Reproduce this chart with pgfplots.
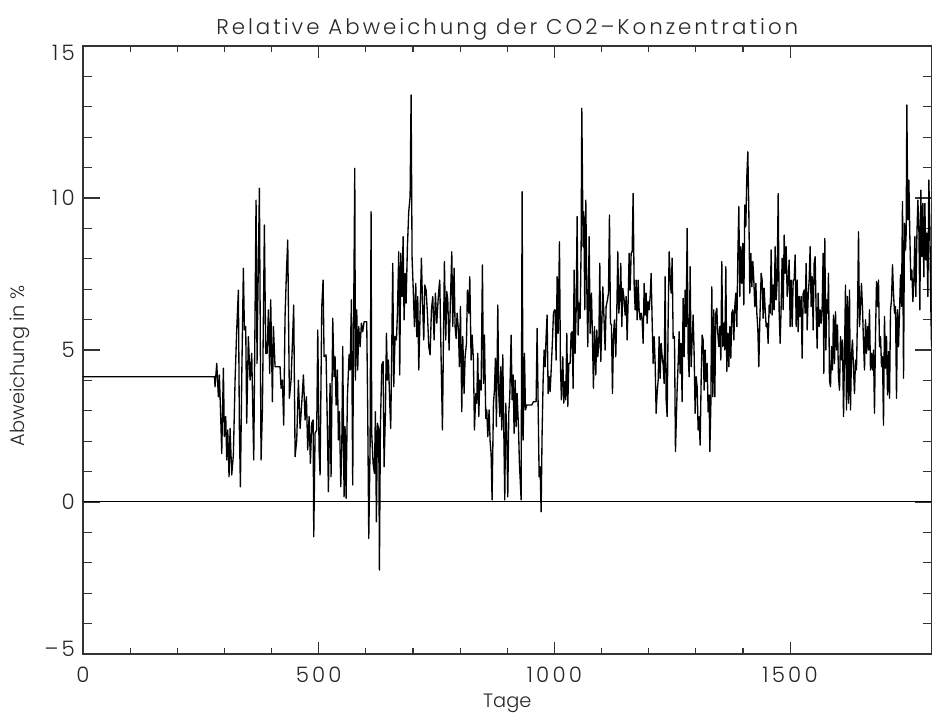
\documentclass[border=0pt]{standalone}
\usepackage{fontspec}
\setmainfont{Poppins Light}
\usepackage{pgfplots}
\pgfplotsset{compat=1.18}
\pgfplotstableread{
x y
0 4.12
279 4.12
280.1 3.79
283.7 4.56
287.2 3.46
289.3 4.18
292.1 2.81
294.3 1.60
297.8 4.40
299.9 2.15
302.8 2.81
304.9 1.38
307.0 2.37
309.8 0.83
312.0 2.42
315.5 0.89
319.0 1.55
322.6 4.01
326.1 5.66
329.6 6.97
331.8 2.37
333.9 0.50
336.7 4.01
340.2 7.69
342.4 5.66
345.2 5.77
347.3 2.59
350.8 5.44
354.4 4.01
357.9 4.89
362.2 1.38
365.0 6.21
367.1 9.93
369.2 4.56
370.7 6.43
374.2 10.32
377.7 1.38
380.6 3.03
384.8 9.11
387.6 4.89
390.5 4.89
393.3 6.32
396.1 4.23
398.2 6.65
401.8 3.30
403.9 5.77
407.4 4.45
411.0 4.45
418.0 4.45
420.2 3.74
423.0 4.01
425.8 2.53
428.6 6.10
431.5 7.52
434.3 8.62
437.8 3.41
441.4 4.01
444.2 5.22
447.0 6.48
449.9 1.49
453.4 2.04
456.9 4.01
460.5 2.42
464.0 3.25
467.6 4.18
471.1 2.70
473.9 3.46
476.7 1.71
479.6 2.81
482.4 1.27
485.2 2.59
488.1 2.70
489.5 -1.14
492.3 2.26
495.8 2.37
498.0 5.66
500.8 1.71
502.9 0.89
506.5 6.43
509.3 7.30
511.4 4.78
515.6 4.84
518.5 2.37
520.6 0.34
524.1 3.90
526.2 0.83
529.8 6.04
532.6 4.12
534.7 4.78
536.9 3.19
539.7 4.34
541.8 2.04
543.9 2.97
546.8 0.50
548.9 1.66
551.0 5.11
553.8 0.17
555.9 2.48
558.1 0.12
560.9 3.46
564.4 4.84
566.6 4.34
569.4 6.65
572.2 0.56
573.6 4.89
576.5 10.98
577.9 4.01
580.7 6.32
582.8 4.34
584.9 5.77
587.8 5.11
590.6 5.88
593.4 5.60
596.3 5.93
601.9 5.93
604.0 2.92
606.2 -1.20
609.0 1.82
611.1 9.55
612.5 2.26
615.4 1.27
618.2 0.94
620.3 2.97
622.4 -0.65
624.6 2.59
627.4 2.37
628.8 -2.24
630.9 2.48
633.8 4.51
636.6 4.62
638.7 1.16
641.5 2.92
643.7 5.55
645.8 4.01
647.9 4.67
650.7 3.25
652.8 2.42
655.0 5.11
657.1 7.85
659.2 3.79
662.0 5.44
664.9 5.33
667.0 6.21
669.8 8.23
671.9 4.18
674.1 8.18
676.9 6.76
679.0 8.73
681.1 5.99
683.3 7.52
685.4 6.54
688.2 8.40
691.0 9.55
693.9 10.04
696.0 13.39
698.1 8.02
700.2 7.14
703.1 5.77
705.9 7.19
708.0 5.44
710.1 6.76
712.3 4.34
715.1 6.21
717.9 8.02
720.0 6.65
722.9 5.33
725.0 7.14
727.8 6.97
730.6 6.21
733.5 5.11
736.3 4.84
739.1 6.32
742.0 6.76
744.8 5.33
747.6 6.87
750.5 5.88
753.3 6.65
755.4 7.08
756.8 7.30
759.6 4.78
762.5 2.37
764.6 5.33
766.7 7.91
769.5 5.33
771.7 6.92
773.8 6.65
776.6 5.00
778.7 6.21
782.3 8.23
784.4 5.77
787.2 7.69
789.3 5.77
791.5 5.38
793.6 6.21
796.4 5.66
798.5 4.45
800.7 6.43
803.5 2.97
805.6 5.44
808.4 3.57
810.6 4.78
813.4 5.22
815.5 6.97
818.3 6.21
820.5 7.41
823.3 4.67
825.4 5.49
828.2 4.67
830.4 2.37
833.2 3.57
835.3 3.25
837.4 4.89
839.6 2.81
841.7 4.01
844.5 3.68
847.3 7.80
849.5 3.90
851.6 5.49
854.4 2.75
856.5 3.03
858.7 2.15
861.5 3.03
863.6 1.99
865.7 1.60
867.8 0.07
870.7 3.25
872.8 3.68
874.9 4.73
877.0 2.48
879.9 6.48
882.0 3.57
884.1 2.81
886.2 4.45
888.4 2.37
890.5 4.84
892.6 2.42
894.7 0.07
896.8 3.25
899.0 2.10
901.1 0.17
903.2 2.92
905.3 3.46
908.2 5.49
910.3 3.36
912.4 4.18
914.5 2.26
916.7 4.01
918.8 2.48
920.9 3.57
923.7 2.48
925.8 1.27
929.4 0.07
931.5 10.21
933.6 2.04
936.5 4.89
938.6 3.03
941.4 3.19
952.0 3.19
955.6 3.30
961.2 3.30
963.3 5.71
965.5 3.19
967.6 0.83
969.7 1.16
971.8 -0.32
973.9 2.26
976.1 4.01
978.2 5.00
980.3 4.45
982.4 5.44
984.5 6.15
986.7 3.57
988.8 4.12
990.9 3.63
993.0 4.29
995.9 5.33
998.0 6.21
1000.1 6.32
1001.5 6.32
1003.6 4.67
1005.8 7.41
1007.9 5.55
1010.7 8.56
1012.8 4.51
1014.9 3.36
1017.8 4.78
1019.9 3.25
1022.0 3.96
1024.1 3.36
1026.3 5.55
1028.4 3.14
1030.5 4.56
1033.3 4.56
1035.5 5.55
1037.6 5.60
1039.7 3.74
1041.8 7.63
1043.9 4.89
1046.1 6.32
1048.2 9.39
1050.3 5.49
1052.4 6.54
1054.6 6.04
1056.7 8.40
1058.1 12.95
1059.5 10.70
1060.9 8.40
1062.3 9.55
1064.5 6.32
1066.6 9.93
1068.7 7.08
1070.8 5.11
1073.7 8.73
1075.8 5.55
1078.6 6.87
1080.7 5.44
1082.8 3.74
1085.0 5.77
1087.8 4.18
1089.9 5.66
1092.0 4.78
1094.2 5.17
1096.3 7.85
1098.4 4.62
1100.5 5.82
1102.7 7.08
1104.8 6.21
1107.6 5.00
1109.7 6.43
1112.6 6.65
1114.7 6.87
1116.8 9.44
1118.9 5.88
1121.0 5.82
1123.2 3.57
1125.3 5.49
1127.4 5.99
1130.2 4.78
1132.4 6.32
1134.5 8.23
1136.6 6.21
1138.7 6.70
1140.8 7.85
1143.0 5.77
1145.1 7.03
1147.9 6.65
1150.0 6.15
1152.2 6.76
1154.3 5.33
1156.4 6.59
1158.5 8.18
1160.7 6.97
1162.8 8.18
1164.9 8.23
1167.0 10.15
1169.1 7.19
1171.3 6.32
1173.4 7.30
1175.5 5.99
1177.6 7.30
1179.7 6.32
1181.9 5.99
1184.0 6.21
1186.1 5.99
1188.2 5.22
1190.4 7.19
1192.5 6.15
1194.6 6.87
1196.7 5.88
1198.8 6.59
1201.0 6.32
1203.1 6.76
1205.2 7.52
1207.3 5.99
1209.5 4.56
1211.6 5.44
1213.7 4.56
1215.8 2.92
1217.9 3.57
1220.1 4.01
1222.2 5.44
1224.3 4.07
1226.4 5.22
1228.6 4.78
1230.7 4.51
1232.8 3.90
1234.9 7.41
1237.0 3.36
1239.2 2.81
1241.3 5.99
1243.4 8.23
1245.5 7.41
1247.6 6.87
1249.8 8.02
1251.9 5.38
1254.7 5.44
1256.8 1.66
1260.3 3.68
1262.5 4.56
1264.6 5.60
1266.7 4.23
1268.8 5.22
1270.9 3.30
1273.1 6.70
1275.2 4.78
1277.3 6.97
1279.4 5.77
1281.6 9.00
1283.7 4.89
1285.8 4.12
1287.9 7.74
1290.1 4.45
1292.2 5.33
1294.3 6.15
1296.4 4.89
1298.5 2.92
1300.7 4.12
1302.8 3.79
1304.9 2.37
1307.0 2.81
1309.1 1.87
1311.3 4.01
1313.4 5.49
1315.5 5.33
1317.6 3.68
1319.8 5.00
1321.9 3.96
1324.0 4.56
1326.1 2.97
1328.2 3.52
1329.7 1.66
1331.8 3.14
1333.9 7.08
1336.0 3.46
1338.1 6.32
1340.3 3.46
1342.4 6.21
1344.5 6.37
1346.6 5.55
1348.8 5.11
1350.9 5.77
1353.0 4.67
1355.1 7.91
1357.2 5.11
1359.4 5.88
1361.5 5.00
1363.6 7.74
1365.7 4.29
1367.9 5.55
1370.0 4.45
1372.1 5.77
1374.2 4.73
1376.3 6.21
1378.5 6.32
1380.6 5.33
1382.7 6.43
1384.8 6.87
1387.0 5.77
1389.1 8.07
1391.2 9.72
1393.3 6.76
1395.4 8.40
1397.6 7.19
1399.7 8.51
1401.8 6.48
1403.9 9.77
1406.0 9.06
1408.2 10.70
1410.3 11.52
1412.4 9.61
1414.5 6.87
1416.7 8.18
1418.8 7.08
1420.9 7.91
1423.0 7.30
1425.1 6.43
1427.3 7.19
1429.4 6.21
1431.5 5.71
1433.6 4.45
1435.8 5.99
1438.6 7.52
1440.7 7.30
1442.8 6.04
1444.9 7.03
1447.1 6.32
1449.2 5.77
1451.3 5.88
1453.4 5.22
1455.6 6.48
1457.7 6.21
1459.8 8.29
1461.9 6.15
1464.0 7.14
1466.2 6.32
1468.3 8.40
1470.4 6.65
1472.5 7.30
1474.7 10.15
1476.8 6.21
1478.9 5.22
1481.0 6.43
1483.1 8.02
1485.3 6.32
1487.4 8.78
1489.5 7.52
1491.6 8.40
1493.8 6.76
1495.9 7.30
1498.0 7.96
1500.1 5.77
1502.2 7.30
1504.4 5.77
1506.5 7.30
1508.6 7.30
1510.7 8.13
1512.9 5.77
1515.0 7.30
1517.1 5.60
1519.2 6.76
1521.3 6.10
1523.4 6.76
1525.5 4.73
1527.7 6.87
1529.8 6.97
1531.9 6.21
1534.0 7.85
1536.2 5.66
1538.3 6.76
1540.4 7.30
1542.5 8.40
1544.6 6.43
1546.8 7.41
1548.9 5.66
1551.0 7.85
1553.1 8.07
1555.2 6.32
1557.4 5.06
1559.5 6.87
1561.6 5.77
1563.7 6.32
1565.9 5.88
1568.0 6.43
1570.1 8.18
1571.5 4.23
1573.6 8.67
1575.8 5.00
1577.9 6.65
1580.0 6.21
1581.4 7.52
1583.5 4.01
1585.7 3.79
1587.8 5.11
1589.9 4.34
1592.0 6.15
1594.2 4.56
1596.3 6.26
1598.4 5.00
1600.5 5.82
1602.6 4.12
1604.8 3.68
1606.9 5.44
1609.0 4.67
1611.1 5.33
1613.3 2.81
1615.4 4.89
1617.5 7.14
1619.6 3.03
1621.7 6.76
1623.9 3.25
1626.0 6.97
1628.1 3.03
1630.2 4.84
1632.3 5.33
1634.5 4.34
1636.6 3.57
1638.7 4.67
1640.8 4.34
1643.0 6.21
1645.1 8.89
1647.2 5.77
1649.3 6.43
1651.4 7.19
1653.6 6.37
1655.7 5.22
1657.8 4.34
1659.9 5.99
1662.1 4.89
1664.2 5.77
1666.3 5.00
1668.4 6.32
1670.5 4.34
1672.7 4.89
1674.8 4.34
1676.9 5.00
1679.0 2.92
1681.2 5.55
1683.3 7.25
1685.4 6.43
1687.5 7.30
1689.6 5.11
1691.8 5.44
1693.9 4.45
1696.0 4.78
1698.1 2.53
1700.2 6.10
1702.4 4.40
1704.5 5.44
1706.6 3.52
1708.7 4.95
1710.9 3.41
1713.0 6.32
1715.1 6.65
1717.2 7.80
1719.3 6.87
1721.5 6.21
1723.6 6.43
1725.7 3.41
1727.8 6.32
1730.0 5.11
1732.1 6.26
1734.2 7.47
1736.3 6.43
1738.4 9.88
1740.6 4.07
1742.7 9.17
1744.8 8.29
1746.2 8.84
1747.6 13.06
1749.8 9.28
1751.9 10.59
1754.0 8.73
1756.1 7.30
1758.2 7.63
1760.4 6.59
1762.5 7.25
1764.6 8.73
1766.7 6.76
1768.9 8.73
1771.0 9.93
1773.1 9.06
1775.2 6.32
1777.3 10.26
1779.5 8.07
1781.6 9.82
1783.7 7.41
1785.8 9.82
1788.0 7.96
1790.1 8.84
1792.2 6.76
1794.3 10.59
1796.4 9.06
1798.6 6.32
1800.0 5.11
}\codata
\begin{document}
\begin{tikzpicture}
\path[use as bounding box] (-62.25pt,-45.75pt) rectangle (637.5pt,490.5pt);
\begin{axis}[
  scale only axis,
  width=636.4pt, height=456pt,
  xmin=0, xmax=1800, ymin=-5, ymax=15,
  xtick={0,500,1000,1500}, xticklabels={0,500,1000,1500},
  ytick={-5,0,5,10,15},
  yticklabels={{\raisebox{4pt}[\height][\depth]{–5}},0,5,10,{\raisebox{-5.5pt}[\height][\depth]{15}}},
  minor x tick num=4, minor y tick num=4,
  tick align=inside,
  x tick style={/pgfplots/major tick length=9pt,/pgfplots/minor tick length=4.5pt},
  y tick style={/pgfplots/major tick length=12.75pt,/pgfplots/minor tick length=6.4pt},
  axis line style={line width=0.8pt, black!80},
  every tick/.style={line width=0.8pt, black!80},
  tick label style={font=\fontsize{16}{19}\selectfont\addfontfeatures{LetterSpace=15}, black!85},
  xticklabel style={anchor=base, yshift=-21pt},
  yticklabel style={anchor=east, inner sep=0pt, xshift=-6pt},
  title={Relative Abweichung der CO2–Konzentration},
  every axis title/.style={at={(axis description cs:0.5,1.0197)}, anchor=base, font=\fontsize{16}{19}\selectfont\addfontfeatures{LetterSpace=14}, black!85},
  xlabel={Tage},
  every axis x label/.style={at={(axis description cs:0.5,-0.0872)}, anchor=base, font=\fontsize{14.5}{17}\selectfont, black!85},
  ylabel={Abweichung in \%},
  every axis y label/.style={at={(axis description cs:-0.0684,0.4737)}, rotate=90, anchor=base, font=\fontsize{14.5}{17}\selectfont, black!85},
]
\addplot[black, line width=0.75pt, forget plot] coordinates {(0,0) (1800,0)};
\addplot[black, line width=1pt, line join=round] table[x=x,y=y] {\codata};
\end{axis}
\end{tikzpicture}
\end{document}
